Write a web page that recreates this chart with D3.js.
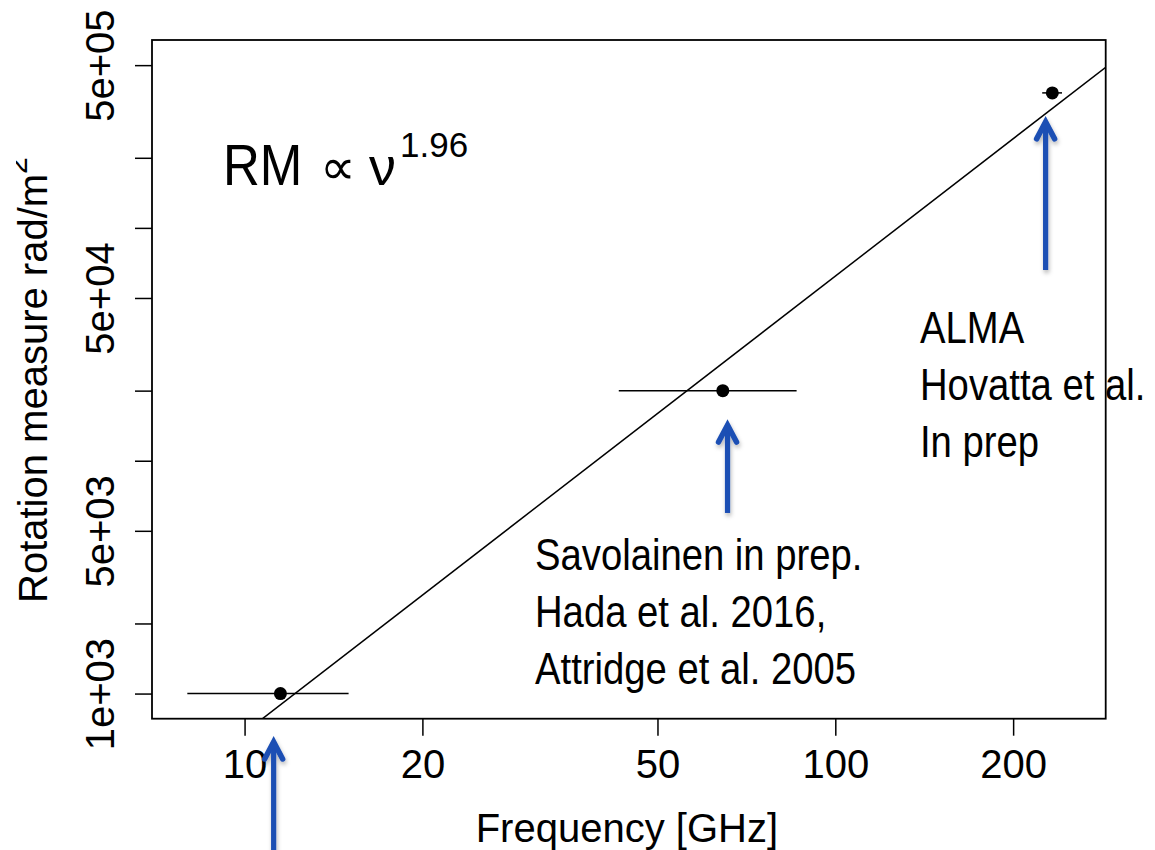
<!DOCTYPE html>
<html>
<head>
<meta charset="utf-8">
<script src="https://cdn.jsdelivr.net/npm/d3@7"></script>
<style>
  html, body { margin: 0; padding: 0; background: #ffffff; }
  svg { display: block; }
  text { font-family: "Liberation Sans", Arial, Helvetica, sans-serif; fill: #000; }
</style>
</head>
<body>
<script>
// Rotation measure vs. observing frequency, with a power-law fit RM ∝ ν^1.96

// Measurements (frequency in GHz, RM in rad/m^2)
const freqGHz         = [11.5, 64.5, 233];
const freqLowGHz      = [8, 43, 224];
const freqHighGHz     = [15, 86, 242];
const rotationMeasure = [1000, 20000, 380000];

// Power-law fit: RM = fitNorm * ν^fitExponent
const fitExponent = 1.96;
const fitNorm     = 7.46;

// Axis limits (before the 4% padding of the plot region)
const xLimits = [8, 250];
const yLimits = [1000, 500000];

// Tick values and their labels
const xTickValues = [10, 20, 50, 100, 200];
const xTickLabels = ["10", "20", "50", "100", "200"];
const yTickValues = [1e3, 2e3, 5e3, 1e4, 2e4, 5e4, 1e5, 2e5, 5e5];
const yTickLabels = ["1e+03", "", "5e+03", "", "", "5e+04", "", "", "5e+05"];

// Arrows pointing at the measurements (frequency, RM at tip, RM at tail)
const arrowFreq   = [11.2, 65.7, 227];
const arrowTipRM  = [632, 14520, 290900];
const arrowTailRM = [160, 5965, 65970];

// References for each measurement
const refLinesLow  = ["Savolainen in prep.", "Hada et al. 2016,", "Attridge et al. 2005"];
const refLinesHigh = ["ALMA", "Hovatta et al.", "In prep"];

// ---------------------------------------------------------------------------
const W = 1155, H = 850;
const plot = { left: 152, right: 1105.7, top: 40, bottom: 718.7 };
const arrowBlue = "#1c4fb4";

function padLog([a, b], f = 0.04) {
  const la = Math.log10(a), lb = Math.log10(b), d = (lb - la) * f;
  return [Math.pow(10, la - d), Math.pow(10, lb + d)];
}

const x = d3.scaleLog().domain(padLog(xLimits)).range([plot.left, plot.right]);
const y = d3.scaleLog().domain(padLog(yLimits)).range([plot.bottom, plot.top]);

const svg = d3.select("body").append("svg")
  .attr("width", W).attr("height", H)
  .attr("viewBox", `0 0 ${W} ${H}`);

const defs = svg.append("defs");
defs.append("clipPath").attr("id", "plot-clip")
  .append("rect")
  .attr("x", plot.left).attr("y", plot.top)
  .attr("width", plot.right - plot.left).attr("height", plot.bottom - plot.top);
defs.append("clipPath").attr("id", "title-clip")
  .append("rect").attr("x", 16).attr("y", 0).attr("width", 200).attr("height", H);
const shadow = defs.append("filter").attr("id", "arrow-shadow")
  .attr("x", "-50%").attr("y", "-20%").attr("width", "200%").attr("height", "140%");
shadow.append("feDropShadow")
  .attr("dx", 1).attr("dy", 3).attr("stdDeviation", 2.2)
  .attr("flood-color", "#000").attr("flood-opacity", 0.28);

// --- axes -----------------------------------------------------------------
const xAxis = d3.axisBottom(x)
  .tickValues(xTickValues)
  .tickFormat((d, i) => xTickLabels[i])
  .tickSize(17).tickPadding(0);

const gx = svg.append("g")
  .attr("transform", `translate(0,${plot.bottom})`)
  .call(xAxis);
gx.select(".domain").remove();
gx.selectAll(".tick line").attr("stroke", "#000").attr("stroke-width", 1.5);
gx.selectAll(".tick text")
  .attr("y", 59.3).attr("dy", null)
  .style("font-size", "40px")
  .attr("fill", "#000");

const yAxis = d3.axisLeft(y)
  .tickValues(yTickValues)
  .tickFormat((d, i) => yTickLabels[i])
  .tickSize(17).tickPadding(0);

const gy = svg.append("g")
  .attr("transform", `translate(${plot.left},0)`)
  .call(yAxis);
gy.select(".domain").remove();
gy.selectAll(".tick line").attr("stroke", "#000").attr("stroke-width", 1.5);
gy.selectAll(".tick text")
  .attr("x", null).attr("dy", null)
  .attr("transform", "translate(-38,0) rotate(-90)")
  .attr("text-anchor", "middle")
  .style("font-size", "40px")
  .attr("fill", "#000");

// plot frame
svg.append("rect")
  .attr("x", plot.left).attr("y", plot.top)
  .attr("width", plot.right - plot.left).attr("height", plot.bottom - plot.top)
  .attr("fill", "none").attr("stroke", "#000").attr("stroke-width", 1.8);

// --- fit line ------------------------------------------------------------
const [fx0, fx1] = x.domain();
const fitPts = [fx0, fx1].map(f => [f, fitNorm * Math.pow(f, fitExponent)]);
svg.append("g").attr("clip-path", "url(#plot-clip)")
  .append("path")
  .attr("d", d3.line().x(d => x(d[0])).y(d => y(d[1]))(fitPts))
  .attr("fill", "none").attr("stroke", "#000").attr("stroke-width", 1.5);

// --- measurements --------------------------------------------------------
const pts = freqGHz.map((f, i) => ({
  f, lo: freqLowGHz[i], hi: freqHighGHz[i], rm: rotationMeasure[i]
}));
const gp = svg.append("g");
gp.selectAll("line.err").data(pts).join("line")
  .attr("class", "err")
  .attr("x1", d => x(d.lo)).attr("x2", d => x(d.hi))
  .attr("y1", d => y(d.rm)).attr("y2", d => y(d.rm))
  .attr("stroke", "#000").attr("stroke-width", 1.5);
gp.selectAll("circle").data(pts).join("circle")
  .attr("cx", d => x(d.f)).attr("cy", d => y(d.rm)).attr("r", 6.5)
  .attr("fill", "#000");

// --- axis titles ---------------------------------------------------------
svg.append("text")
  .attr("x", (plot.left + plot.right) / 2 - 2).attr("y", 842)
  .attr("text-anchor", "middle")
  .style("font-size", "40px")
  .text("Frequency [GHz]");

const yTitle = svg.append("g").attr("clip-path", "url(#title-clip)")
  .append("text")
  .attr("transform", "translate(47,603) rotate(-90)")
  .attr("text-anchor", "start")
  .style("font-size", "40px");
yTitle.append("tspan").text("Rotation measure rad/m");
yTitle.append("tspan").attr("dy", -20).style("font-size", "30px").text("2");

// --- fit annotation ------------------------------------------------------
svg.append("text")
  .attr("transform", "translate(223,185) scale(0.88,1)")
  .style("font-size", "58px").text("RM");
svg.append("text")
  .attr("x", 320).attr("y", 184)
  .style("font-family", "'DejaVu Sans', sans-serif")
  .style("font-size", "50px").text("\u221D");
svg.append("text")
  .attr("x", 369).attr("y", 185)
  .style("font-size", "54px").text("\u03BD");
svg.append("text")
  .attr("x", 400).attr("y", 157)
  .style("font-size", "35px").text(fitExponent.toFixed(2));

// --- reference notes -----------------------------------------------------
function noteBlock(lines, tx, ty) {
  const g = svg.append("g").attr("transform", `translate(${tx},${ty}) scale(0.85,1)`);
  g.selectAll("text").data(lines).join("text")
    .attr("x", 0).attr("y", (d, i) => i * 56.8)
    .style("font-size", "45px")
    .text(d => d);
}
noteBlock(refLinesLow, 535, 570);
noteBlock(refLinesHigh, 920, 343);

// --- arrows --------------------------------------------------------------
const arrows = arrowFreq.map((f, i) => ({ f, tip: arrowTipRM[i], tail: arrowTailRM[i] }));
const ga = svg.append("g").attr("filter", "url(#arrow-shadow)");
arrows.forEach(a => {
  const ax = x(a.f), ty = y(a.tip), by = y(a.tail);
  ga.append("line")
    .attr("x1", ax).attr("x2", ax).attr("y1", ty + 3).attr("y2", by)
    .attr("stroke", arrowBlue).attr("stroke-width", 5.2);
  ga.append("path")
    .attr("d", `M${ax - 9},${ty + 19} L${ax},${ty + 2} L${ax + 9},${ty + 19}`)
    .attr("fill", "none").attr("stroke", arrowBlue)
    .attr("stroke-width", 5.5).attr("stroke-linecap", "round").attr("stroke-linejoin", "miter");
});
</script>
</body>
</html>
